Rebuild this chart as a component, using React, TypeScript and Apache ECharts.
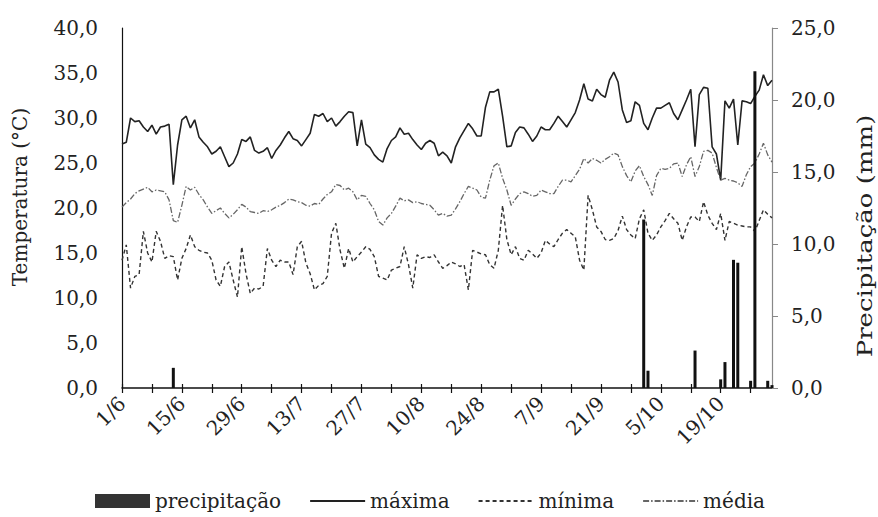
import React, { useEffect, useRef } from "react";
import * as echarts from "echarts";

// Date categories 1/6 .. 31/10
const monthLengths: [number, number][] = [[6, 30], [7, 31], [8, 31], [9, 30], [10, 31]];
const dates: string[] = [];
for (const [m, n] of monthLengths) for (let d = 1; d <= n; d++) dates.push(`${d}/${m}`);

const maxima = [
  27.1, 27.3, 30.0, 29.6, 29.7, 29.0, 28.5, 29.2, 28.2, 29.0,
  29.1, 29.3, 22.6, 27.0, 29.8, 30.2, 28.9, 29.8, 27.9, 27.3,
  26.8, 26.0, 26.3, 26.8, 25.7, 24.6, 25.0, 26.0, 27.6, 27.4,
  27.9, 26.4, 26.1, 26.3, 26.7, 25.5, 26.4, 27.0, 27.8, 28.5,
  27.7, 27.5, 26.9, 27.6, 28.3, 30.4, 30.2, 30.5, 29.6, 30.0,
  29.1, 29.6, 30.2, 30.7, 30.6, 26.9, 29.8, 27.1, 26.7, 25.9,
  25.4, 25.1, 26.6, 27.5, 27.9, 28.9, 28.2, 28.3, 27.6, 27.0,
  26.5, 27.2, 27.5, 27.2, 25.8, 26.2, 25.8, 25.0, 26.8, 27.8,
  28.6, 29.4, 28.8, 28.0, 28.0, 31.2, 32.9, 32.9, 33.2, 30.2,
  26.8, 26.9, 28.4, 29.0, 28.9, 28.2, 27.4, 28.0, 29.0, 28.7,
  28.7, 29.4, 30.2, 29.6, 29.0, 29.8, 30.6, 32.0, 33.8, 32.1,
  31.9, 33.2, 32.6, 32.3, 34.2, 35.1, 34.0, 30.9, 29.5, 29.7,
  31.8, 31.4, 29.4, 28.7, 30.0, 31.1, 31.1, 31.4, 31.7, 30.5,
  29.8, 30.9, 32.0, 33.2, 26.8, 32.6, 33.4, 33.3, 26.8, 26.0,
  23.1, 31.9, 31.1, 32.1, 27.0, 31.9, 31.8, 31.6, 32.4, 33.1,
  34.8, 33.6, 34.2,
];

const minima = [
  14.2, 15.9, 11.1, 12.4, 12.6, 17.4, 15.0, 14.0, 17.4, 16.3,
  14.4, 14.7, 14.6, 12.0, 14.4, 15.5, 17.0, 15.7, 15.3, 15.1,
  15.0, 14.2, 12.0, 11.3, 13.5, 14.0, 12.0, 10.1, 15.7, 12.7,
  10.5, 11.1, 11.0, 11.3, 15.5, 14.2, 13.5, 14.2, 14.0, 14.0,
  12.6, 15.7, 16.3, 13.9, 12.7, 10.9, 11.4, 11.6, 12.4, 17.2,
  18.3, 15.3, 13.3, 15.5, 14.0, 14.6, 15.1, 15.7, 15.4, 14.6,
  12.4, 12.2, 12.0, 13.1, 13.3, 13.5, 15.7, 13.7, 11.1, 14.8,
  14.4, 14.6, 14.5, 14.8, 14.0, 13.3, 13.6, 14.0, 13.8, 13.5,
  13.7, 10.9, 15.3, 15.1, 14.9, 14.8, 13.7, 13.3, 15.3, 20.3,
  16.5, 14.8, 15.7, 14.4, 14.2, 15.3, 14.9, 14.4, 15.0, 16.4,
  16.0, 15.7, 16.5, 17.2, 17.6, 17.2, 16.8, 14.2, 13.1, 21.4,
  19.8, 17.9, 17.4, 16.5, 16.4, 16.6, 17.5, 19.1, 17.6, 17.0,
  16.6, 18.8, 19.8, 17.2, 16.4, 17.0, 17.9, 18.6, 19.4, 18.8,
  18.3, 16.4, 17.9, 19.0, 19.0, 18.5, 20.7, 19.2, 18.3, 17.6,
  19.4, 16.4, 18.5, 18.3, 18.1, 18.0, 17.9, 17.9, 17.4, 18.6,
  19.8, 19.3, 18.9,
];

const media = [
  20.1, 20.6, 21.0, 21.6, 21.9, 22.1, 22.3, 21.8, 22.0, 21.9,
  21.8, 20.9, 18.6, 18.4, 20.3, 22.4, 22.0, 22.3, 21.5, 20.9,
  20.1, 19.4, 19.7, 20.0, 19.4, 18.9, 19.3, 19.8, 20.4, 20.1,
  19.6, 19.5, 19.4, 19.7, 19.6, 19.8, 20.1, 20.3, 20.6, 21.0,
  20.9, 20.7, 20.6, 20.3, 20.2, 20.5, 20.4, 21.0, 21.5, 21.8,
  22.6, 22.5, 22.0, 22.2, 21.8, 20.9, 21.4, 21.3, 20.5, 19.8,
  18.5, 18.1, 18.9, 19.4, 20.2, 21.1, 20.8, 20.9, 20.6, 20.7,
  20.5, 20.4, 20.3, 19.8, 19.2, 19.4, 19.1, 19.2, 19.9, 20.7,
  21.6, 22.4, 22.2, 22.0, 21.2, 21.1, 23.1, 24.7, 25.0, 23.3,
  22.0, 20.3, 21.0, 21.6, 21.8, 21.6, 21.3, 21.4, 22.0, 21.8,
  21.6, 21.6, 22.4, 23.1, 23.1, 22.9, 23.6, 24.3, 25.5, 25.0,
  25.5, 25.3, 25.0, 25.4, 25.7, 26.1, 25.9, 24.6, 23.6, 22.9,
  24.1, 24.7, 23.5, 22.6, 21.4, 23.6, 24.4, 24.3, 24.4, 24.9,
  25.0, 23.5, 24.8, 25.7, 23.5, 24.6, 26.3, 26.4, 26.1, 24.5,
  23.1, 23.3, 23.1, 23.0, 22.8, 22.4, 23.7, 24.6, 25.0, 26.0,
  27.2, 25.9, 25.1,
];

// Rain events: day index (0 = 1/6) and amount (mm)
const rainDays = [12, 122, 123, 134, 140, 141, 143, 144, 147, 148, 151, 152];
const rainValues = [1.4, 11.7, 1.2, 2.6, 0.6, 1.8, 8.9, 8.7, 0.5, 22.0, 0.5, 0.2];

const tempTicks = { min: 0, max: 40, interval: 5 };
const rainTicks = { min: 0, max: 25, interval: 5 };

const FONT = "DejaVu Serif";
const TXT = "#222";

const fmt = (v: number) => v.toFixed(1).replace(".", ",");

const hiddenSymbol = { color: "transparent", borderColor: "transparent", opacity: 0 };

export default function App() {
  const ref = useRef<HTMLDivElement>(null);

  useEffect(() => {
    if (!ref.current) return;
    const chart = echarts.init(ref.current, undefined, { renderer: "svg" });
    const precip = dates.map((_, i) => {
      const k = rainDays.indexOf(i);
      return k >= 0 ? rainValues[k] : 0;
    });

    chart.setOption({
      animation: false,
      backgroundColor: "#fff",
      textStyle: { fontFamily: FONT, color: TXT },
      grid: { left: 122, right: 106, top: 28, bottom: 129 },
      legend: {
        left: 90,
        top: 486,
        itemWidth: 55,
        itemHeight: 14,
        itemGap: 28,
        textStyle: { fontFamily: FONT, fontSize: 20, color: TXT },
        data: [
          { name: "precipitação", icon: "rect", itemStyle: { color: "#333" } },
          { name: "máxima", itemStyle: hiddenSymbol },
          { name: "mínima", itemStyle: hiddenSymbol },
          { name: "média", itemStyle: hiddenSymbol },
        ],
      },
      xAxis: [
        {
          type: "category",
          data: dates,
          boundaryGap: false,
          axisLine: { lineStyle: { color: "#111", width: 1.5 } },
          axisTick: { interval: 6, length: 5, lineStyle: { color: "#111", width: 1.2 } },
          axisLabel: {
            interval: 13,
            rotate: 45,
            margin: 12,
            fontFamily: FONT,
            fontSize: 20,
            color: TXT,
          },
          splitLine: { show: false },
        },
        {
          type: "category",
          data: dates,
          boundaryGap: false,
          position: "bottom",
          axisLine: { show: false },
          axisTick: { interval: 6, inside: true, length: 4, lineStyle: { color: "#111", width: 1.2 } },
          axisLabel: { show: false },
          splitLine: { show: false },
        },
      ],
      yAxis: [
        {
          type: "value",
          ...tempTicks,
          axisLine: { show: true, lineStyle: { color: "#111", width: 1.2 } },
          axisTick: { show: false },
          axisLabel: { formatter: fmt, fontFamily: FONT, fontSize: 20, color: TXT, margin: 24 },
          splitLine: { show: false },
        },
        {
          type: "value",
          ...rainTicks,
          position: "right",
          axisLine: { show: true, lineStyle: { color: "#888", width: 1.2 } },
          axisTick: { show: true, length: 6, lineStyle: { color: "#888" } },
          axisLabel: { formatter: fmt, fontFamily: FONT, fontSize: 20, color: TXT, margin: 19 },
          splitLine: { show: false },
        },
      ],
      graphic: [
        {
          type: "text",
          x: 20,
          y: 197,
          rotation: Math.PI / 2,
          style: {
            text: "Temperatura (°C)",
            fontFamily: FONT,
            fontSize: 20,
            fill: TXT,
            textAlign: "center",
            textVerticalAlign: "middle",
          },
        },
        {
          type: "text",
          x: 865,
          y: 236,
          rotation: Math.PI / 2,
          scaleX: 1.3,
          style: {
            text: "Precipitação (mm)",
            fontFamily: FONT,
            fontSize: 20,
            fill: TXT,
            textAlign: "center",
            textVerticalAlign: "middle",
          },
        },
      ],
      series: [
        {
          name: "máxima",
          type: "line",
          data: maxima,
          symbol: "none",
          lineStyle: { color: "#222", width: 1.6 },
          itemStyle: { color: "#222" },
          z: 3,
        },
        {
          name: "mínima",
          type: "line",
          data: minima,
          symbol: "none",
          lineStyle: { color: "#333", width: 1.4, type: [4, 3] },
          itemStyle: { color: "#333" },
          z: 3,
        },
        {
          name: "média",
          type: "line",
          data: media,
          symbol: "none",
          lineStyle: { color: "#666", width: 1.3, type: [6, 2, 1.5, 2] },
          itemStyle: { color: "#666" },
          z: 3,
        },
        {
          name: "precipitação",
          type: "bar",
          yAxisIndex: 1,
          data: precip,
          barWidth: 3,
          itemStyle: { color: "#111" },
          z: 5,
        },
      ],
    });

    return () => chart.dispose();
  }, []);

  return (
    <div
      ref={ref}
      style={{ position: "fixed", left: 0, top: 0, width: 878, height: 517, background: "#fff" }}
    />
  );
}
